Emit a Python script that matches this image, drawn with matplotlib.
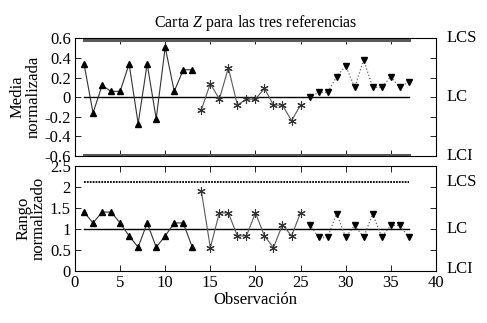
import matplotlib
matplotlib.use("Agg")
import matplotlib.pyplot as plt
import numpy as np

plt.rcParams['font.family'] = ['Liberation Serif', 'DejaVu Serif']
plt.rcParams['mathtext.fontset'] = 'custom'
plt.rcParams['mathtext.it'] = 'Liberation Serif:italic'
plt.rcParams['mathtext.rm'] = 'Liberation Serif'

# observaciones de cada referencia
obs_ref1 = np.arange(1, 14)
obs_ref2 = np.arange(14, 26)
obs_ref3 = np.arange(26, 38)

# media normalizada
media_ref1 = [0.34, -0.16, 0.12, 0.06, 0.06, 0.34, -0.27, 0.34, -0.22, 0.51, 0.06, 0.28, 0.28]
media_ref2 = [-0.13, 0.14, -0.02, 0.30, -0.08, -0.02, -0.02, 0.09, -0.08, -0.08, -0.24, -0.08]
media_ref3 = [0.0, 0.05, 0.05, 0.21, 0.32, 0.10, 0.38, 0.10, 0.10, 0.21, 0.10, 0.16]

# rango normalizado
rango_ref1 = [1.40, 1.14, 1.40, 1.40, 1.14, 0.83, 0.56, 1.14, 0.56, 0.83, 1.14, 1.14, 0.56]
rango_ref2 = [1.91, 0.55, 1.38, 1.38, 0.83, 0.83, 1.38, 0.83, 0.55, 1.10, 0.83, 1.38]
rango_ref3 = [1.10, 0.80, 0.80, 1.36, 0.80, 1.08, 0.80, 1.36, 0.80, 1.08, 1.08, 0.80]

# limites de control
lim_media = {"LCS": 0.58, "LC": 0.0, "LCI": -0.59}
lim_rango = {"LCS": 2.11, "LC": 1.0, "LCI": 0.0}
x_lim_line = [1, 37]

fig = plt.figure(figsize=(4.87, 3.23), dpi=100)
ax1 = fig.add_axes([0.154, 0.517, 0.741, 0.364])
ax2 = fig.add_axes([0.154, 0.162, 0.741, 0.324])

asterisk = (6, 2, 0)


def plot_series(ax, y1, y2, y3):
    ax.plot(obs_ref1, y1, color='0.2', lw=0.8, marker='^', ms=4.5, mfc='k', mec='k')
    ax.plot(obs_ref2, y2, color='0.35', lw=0.8, marker=asterisk, ms=6, mec='0.2', mew=0.8)
    ax.plot(obs_ref3, y3, color='0.4', lw=0.9, ls=':', marker='v', ms=4.5, mfc='k', mec='k')


# grafica de medias
ax1.plot(x_lim_line, [lim_media["LCS"]] * 2, color='0.35', lw=2.2)
ax1.plot(x_lim_line, [lim_media["LCI"]] * 2, color='0.35', lw=2.2)
ax1.plot(x_lim_line, [lim_media["LC"]] * 2, color='k', lw=1.0)
plot_series(ax1, media_ref1, media_ref2, media_ref3)
ax1.set_ylim(-0.6, 0.6)
ax1.set_yticks(np.arange(-0.6, 0.61, 0.2))
ax1.set_yticklabels(["-0.6", "-0.4", "-0.2", "0", "0.2", "0.4", "0.6"])
ax1.set_ylabel("Media\nnormalizada", fontsize=12, linespacing=1.0, labelpad=2)
ax1.set_title("Carta $Z$ para las tres referencias", fontsize=11.5, pad=8)
ax1.tick_params(labelbottom=False)
ax1.text(1.03, 0.6, "LCS", transform=ax1.get_yaxis_transform(), va='center', fontsize=12)
ax1.text(1.03, 0.0, "LC", transform=ax1.get_yaxis_transform(), va='center', fontsize=12)
ax1.text(1.03, -0.6, "LCI", transform=ax1.get_yaxis_transform(), va='center', fontsize=12)

# grafica de rangos
ax2.plot(x_lim_line, [lim_rango["LCS"]] * 2, color='k', lw=1.3, ls=(0, (1, 0.6)))
ax2.plot(x_lim_line, [lim_rango["LC"]] * 2, color='k', lw=1.0)
plot_series(ax2, rango_ref1, rango_ref2, rango_ref3)
ax2.set_ylim(0, 2.5)
ax2.set_yticks(np.arange(0, 2.51, 0.5))
ax2.set_yticklabels(["0", "0.5", "1", "1.5", "2", "2.5"])
ax2.set_ylabel("Rango\nnormalizado", fontsize=12, linespacing=1.0, labelpad=2)
ax2.set_xlabel("Observación", fontsize=12, labelpad=1)
ax2.text(1.03, 2.13, "LCS", transform=ax2.get_yaxis_transform(), va='center', fontsize=12)
ax2.text(1.03, 1.0, "LC", transform=ax2.get_yaxis_transform(), va='center', fontsize=12)
ax2.text(1.03, 0.05, "LCI", transform=ax2.get_yaxis_transform(), va='center', fontsize=12)

for ax in (ax1, ax2):
    ax.set_xlim(0, 40)
    ax.set_xticks(np.arange(0, 41, 5))
    ax.tick_params(direction='in', top=True, right=True, length=4, width=0.6,
                   labelsize=12, pad=3, colors='k')
    for sp in ax.spines.values():
        sp.set_linewidth(0.8)

fig.savefig("out.png", dpi=100)
